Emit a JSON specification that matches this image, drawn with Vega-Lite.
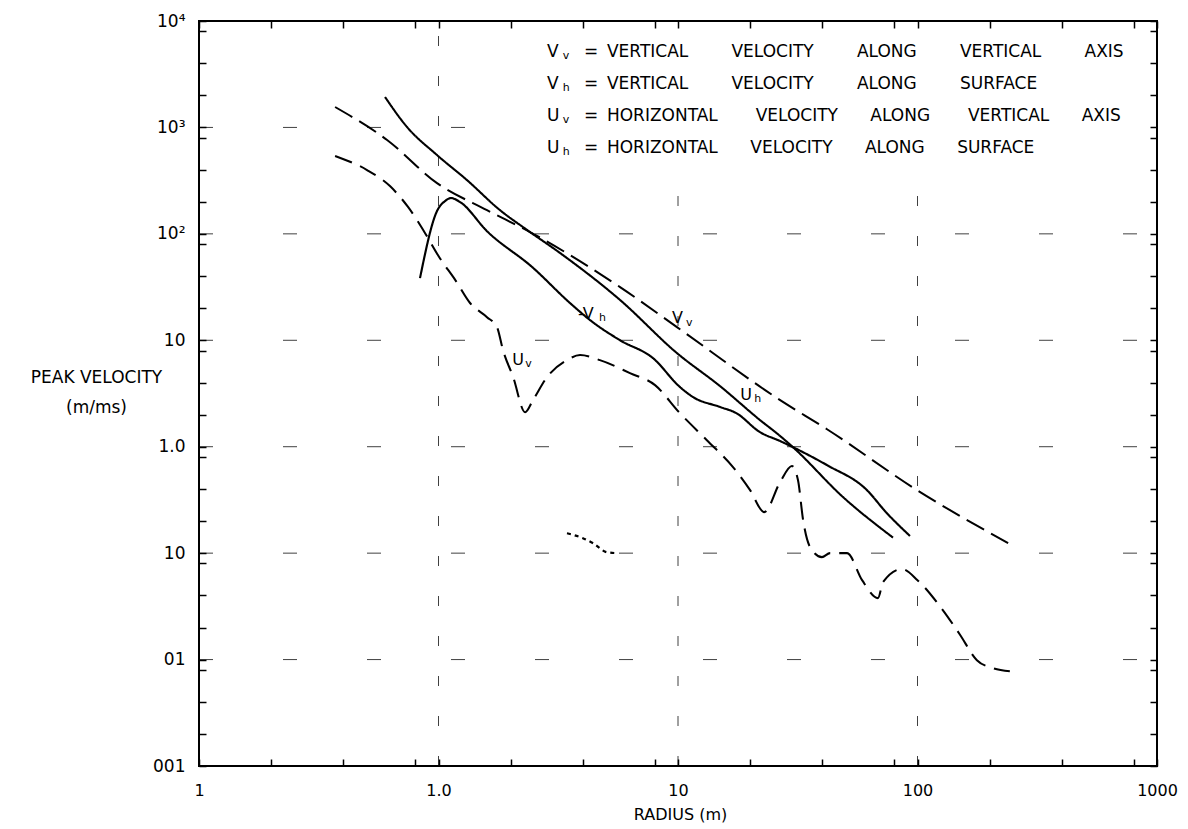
{
  "$schema": "https://vega.github.io/schema/vega-lite/v6.json",
  "width": 958,
  "height": 745,
  "autosize": {"type": "none"},
  "padding": {"left": 199, "top": 21, "right": 31, "bottom": 63},
  "background": "white",
  "config": {
    "view": {"stroke": "black", "strokeWidth": 2},
    "font": "DejaVu Sans",
    "axis": {"domain": false, "grid": false, "tickColor": "black", "tickWidth": 1.5, "tickSize": -7, "labelColor": "black", "titleColor": "black", "labelFont": "DejaVu Sans", "titleFont": "DejaVu Sans", "titleFontWeight": "normal", "labelFlush": false, "labelOverlap": false, "labelBound": false},
    "text": {"font": "DejaVu Sans", "color": "black"}
  },
  "datasets": {
    "curves": [
      {"s": "Vv", "x": 0.37, "y": 1556}, {"s": "Vv", "x": 0.61, "y": 762}, {"s": "Vv", "x": 0.986, "y": 300}, {"s": "Vv", "x": 1.594, "y": 167}, {"s": "Vv", "x": 2.41, "y": 104}, {"s": "Vv", "x": 5.73, "y": 31.6}, {"s": "Vv", "x": 9.9, "y": 13.3}, {"s": "Vv", "x": 26.7, "y": 2.74}, {"s": "Vv", "x": 41.9, "y": 1.46}, {"s": "Vv", "x": 99.5, "y": 0.391}, {"s": "Vv", "x": 239, "y": 0.124},
      {"s": "Uh", "x": 0.598, "y": 1931}, {"s": "Uh", "x": 0.739, "y": 1009}, {"s": "Uh", "x": 0.986, "y": 550}, {"s": "Uh", "x": 1.315, "y": 320}, {"s": "Uh", "x": 1.806, "y": 167}, {"s": "Uh", "x": 2.34, "y": 109}, {"s": "Uh", "x": 3.22, "y": 66}, {"s": "Uh", "x": 5.73, "y": 23.9}, {"s": "Uh", "x": 9.9, "y": 7.58}, {"s": "Uh", "x": 15.0, "y": 3.7}, {"s": "Uh", "x": 22.0, "y": 1.78}, {"s": "Uh", "x": 26.7, "y": 1.26}, {"s": "Uh", "x": 30.2, "y": 0.99}, {"s": "Uh", "x": 48.9, "y": 0.336}, {"s": "Uh", "x": 79, "y": 0.14},
      {"s": "Vh", "x": 0.837, "y": 38.4}, {"s": "Vh", "x": 0.986, "y": 164}, {"s": "Vh", "x": 1.064, "y": 203}, {"s": "Vh", "x": 1.128, "y": 217}, {"s": "Vh", "x": 1.23, "y": 199}, {"s": "Vh", "x": 1.594, "y": 106}, {"s": "Vh", "x": 2.46, "y": 48.8}, {"s": "Vh", "x": 3.54, "y": 22.4}, {"s": "Vh", "x": 4.29, "y": 15.5}, {"s": "Vh", "x": 5.73, "y": 10.0}, {"s": "Vh", "x": 7.86, "y": 6.8}, {"s": "Vh", "x": 10.2, "y": 3.63}, {"s": "Vh", "x": 11.55, "y": 2.93}, {"s": "Vh", "x": 15.0, "y": 2.36}, {"s": "Vh", "x": 17.5, "y": 2.07}, {"s": "Vh", "x": 22.0, "y": 1.37}, {"s": "Vh", "x": 26.7, "y": 1.13}, {"s": "Vh", "x": 30.2, "y": 0.99}, {"s": "Vh", "x": 41.9, "y": 0.671}, {"s": "Vh", "x": 61.5, "y": 0.391}, {"s": "Vh", "x": 73.8, "y": 0.243}, {"s": "Vh", "x": 93, "y": 0.145},
      {"s": "Uv", "x": 0.37, "y": 539}, {"s": "Uv", "x": 0.503, "y": 398}, {"s": "Uv", "x": 0.627, "y": 281}, {"s": "Uv", "x": 0.746, "y": 179}, {"s": "Uv", "x": 0.878, "y": 102}, {"s": "Uv", "x": 1.0, "y": 61.9}, {"s": "Uv", "x": 1.183, "y": 36.0}, {"s": "Uv", "x": 1.354, "y": 22.4}, {"s": "Uv", "x": 1.594, "y": 16.5}, {"s": "Uv", "x": 1.755, "y": 13.3}, {"s": "Uv", "x": 1.859, "y": 8.09}, {"s": "Uv", "x": 2.05, "y": 4.51}, {"s": "Uv", "x": 2.3, "y": 2.11}, {"s": "Uv", "x": 2.48, "y": 2.74}, {"s": "Uv", "x": 2.84, "y": 4.51}, {"s": "Uv", "x": 3.44, "y": 6.51}, {"s": "Uv", "x": 3.9, "y": 7.26}, {"s": "Uv", "x": 4.72, "y": 6.51}, {"s": "Uv", "x": 6.3, "y": 4.92}, {"s": "Uv", "x": 8.02, "y": 3.79}, {"s": "Uv", "x": 10.1, "y": 2.11}, {"s": "Uv", "x": 13.2, "y": 1.15}, {"s": "Uv", "x": 16.97, "y": 0.643}, {"s": "Uv", "x": 20.0, "y": 0.391}, {"s": "Uv", "x": 22.9, "y": 0.243}, {"s": "Uv", "x": 26.7, "y": 0.465}, {"s": "Uv", "x": 29.9, "y": 0.658}, {"s": "Uv", "x": 31.7, "y": 0.485}, {"s": "Uv", "x": 33.3, "y": 0.204}, {"s": "Uv", "x": 35.6, "y": 0.114}, {"s": "Uv", "x": 39.9, "y": 0.0917}, {"s": "Uv", "x": 43.1, "y": 0.1}, {"s": "Uv", "x": 50.8, "y": 0.1}, {"s": "Uv", "x": 58.7, "y": 0.0557}, {"s": "Uv", "x": 68.4, "y": 0.0378}, {"s": "Uv", "x": 71.8, "y": 0.0534}, {"s": "Uv", "x": 86.1, "y": 0.0708}, {"s": "Uv", "x": 100, "y": 0.0557}, {"s": "Uv", "x": 125, "y": 0.031}, {"s": "Uv", "x": 150, "y": 0.0173}, {"s": "Uv", "x": 177, "y": 0.00987}, {"s": "Uv", "x": 207, "y": 0.0083}, {"s": "Uv", "x": 243, "y": 0.00778},
      {"s": "frag", "x": 3.44, "y": 0.154}, {"s": "frag", "x": 4.01, "y": 0.138}, {"s": "frag", "x": 4.42, "y": 0.124}, {"s": "frag", "x": 5.05, "y": 0.102}, {"s": "frag", "x": 5.61, "y": 0.1}
    ],
    "vgrid": [{"gx": 1, "y0": 0.001, "y1": 10000}, {"gx": 10, "y0": 0.001, "y1": 400}, {"gx": 100, "y0": 0.001, "y1": 400}],
    "hgrid": [{"gy": 1000, "x0": 0.1, "x1": 2}, {"gy": 100, "x0": 0.1, "x1": 1000}, {"gy": 10, "x0": 0.1, "x1": 1000}, {"gy": 1, "x0": 0.1, "x1": 1000}, {"gy": 0.1, "x0": 0.1, "x1": 1000}, {"gy": 0.01, "x0": 0.1, "x1": 1000}],
    "labels": [
      {"t": "V", "x": 9.44, "y": 16.3, "k": "main"}, {"t": "v", "x": 10.8, "y": 14.5, "k": "sub"},
      {"t": "-V", "x": 3.82, "y": 17.6, "k": "main"}, {"t": "h", "x": 4.68, "y": 16.2, "k": "sub"},
      {"t": "U", "x": 18.2, "y": 3.05, "k": "main"}, {"t": "h", "x": 20.8, "y": 2.8, "k": "sub"},
      {"t": "U", "x": 2.03, "y": 6.5, "k": "main"}, {"t": "v", "x": 2.3, "y": 5.97, "k": "sub"}
    ],
    "legend": [
      {"t": "V", "x": 2.84, "y": 5119, "k": "main"}, {"t": "v", "x": 3.3, "y": 4688, "k": "sub"}, {"t": "=", "x": 4.05, "y": 5119, "k": "main"}, {"t": "VERTICAL\u00a0\u00a0\u00a0\u00a0\u00a0\u00a0\u00a0 VELOCITY\u00a0\u00a0\u00a0\u00a0\u00a0\u00a0\u00a0 ALONG\u00a0\u00a0\u00a0\u00a0\u00a0\u00a0\u00a0 VERTICAL\u00a0\u00a0\u00a0\u00a0\u00a0\u00a0\u00a0 AXIS", "x": 5.05, "y": 5119, "k": "main"},
      {"t": "V", "x": 2.84, "y": 2559, "k": "main"}, {"t": "h", "x": 3.3, "y": 2344, "k": "sub"}, {"t": "=", "x": 4.05, "y": 2559, "k": "main"}, {"t": "VERTICAL\u00a0\u00a0\u00a0\u00a0\u00a0\u00a0\u00a0 VELOCITY\u00a0\u00a0\u00a0\u00a0\u00a0\u00a0\u00a0 ALONG\u00a0\u00a0\u00a0\u00a0\u00a0\u00a0\u00a0 SURFACE", "x": 5.05, "y": 2559, "k": "main"},
      {"t": "U", "x": 2.84, "y": 1279, "k": "main"}, {"t": "v", "x": 3.3, "y": 1173, "k": "sub"}, {"t": "=", "x": 4.05, "y": 1279, "k": "main"}, {"t": "HORIZONTAL\u00a0\u00a0\u00a0\u00a0\u00a0\u00a0 VELOCITY\u00a0\u00a0\u00a0\u00a0\u00a0 ALONG\u00a0\u00a0\u00a0\u00a0\u00a0\u00a0 VERTICAL\u00a0\u00a0\u00a0\u00a0\u00a0 AXIS", "x": 5.05, "y": 1279, "k": "main"},
      {"t": "U", "x": 2.84, "y": 640, "k": "main"}, {"t": "h", "x": 3.3, "y": 587, "k": "sub"}, {"t": "=", "x": 4.05, "y": 640, "k": "main"}, {"t": "HORIZONTAL\u00a0\u00a0\u00a0\u00a0\u00a0 VELOCITY\u00a0\u00a0\u00a0\u00a0\u00a0 ALONG\u00a0\u00a0\u00a0\u00a0\u00a0 SURFACE", "x": 5.05, "y": 640, "k": "main"}
    ]
  },
  "resolve": {"axis": {"x": "independent", "y": "independent"}},
  "layer": [
    {
      "data": {"name": "vgrid"},
      "mark": {"type": "rule", "color": "black", "strokeWidth": 1, "strokeDash": [10, 30], "opacity": 0.75},
      "encoding": {
        "x": {"field": "gx", "type": "quantitative", "scale": {"type": "log", "domain": [0.1, 1000], "nice": false},
          "axis": {"orient": "top", "values": [0.1, 0.2, 0.4, 0.8, 1, 2, 4, 8, 10, 20, 40, 80, 100, 200, 400, 800, 1000], "labels": false, "title": null}},
        "y": {"field": "y0", "type": "quantitative", "scale": {"type": "log", "domain": [0.001, 10000], "nice": false}, "axis": null},
        "y2": {"field": "y1"}
      }
    },
    {
      "data": {"name": "hgrid"},
      "mark": {"type": "rule", "color": "black", "strokeWidth": 1, "strokeDash": [14, 70], "opacity": 0.75},
      "encoding": {
        "x": {"field": "x0", "type": "quantitative", "scale": {"type": "log", "domain": [0.1, 1000], "nice": false}, "axis": null},
        "x2": {"field": "x1"},
        "y": {"field": "gy", "type": "quantitative", "scale": {"type": "log", "domain": [0.001, 10000], "nice": false},
          "axis": {"orient": "right", "values": [0.001, 0.002, 0.004, 0.008, 0.01, 0.02, 0.04, 0.08, 0.1, 0.2, 0.4, 0.8, 1, 2, 4, 8, 10, 20, 40, 80, 100, 200, 400, 800, 1000, 2000, 4000, 8000, 10000], "labels": false, "title": null}}
      }
    },
    {
      "data": {"name": "curves"},
      "mark": {"type": "line", "interpolate": "monotone", "color": "black"},
      "encoding": {
        "x": {"field": "x", "type": "quantitative", "scale": {"type": "log", "domain": [0.1, 1000], "nice": false},
          "axis": {"orient": "bottom", "values": [0.1, 0.2, 0.4, 0.8, 1, 2, 4, 8, 10, 20, 40, 80, 100, 200, 400, 800, 1000],
            "labelExpr": "datum.value==0.1?'1':datum.value==1?'1.0':datum.value==10?'10':datum.value==100?'100':datum.value==1000?'1000':''",
            "labelFontSize": 16, "labelPadding": 23, "title": "RADIUS (m)", "titleFontSize": 16, "titleX": 481, "titleY": 48, "titleBaseline": "middle", "titleAlign": "center"}},
        "y": {"field": "y", "type": "quantitative", "scale": {"type": "log", "domain": [0.001, 10000], "nice": false},
          "axis": {"orient": "left", "values": [0.001, 0.002, 0.004, 0.008, 0.01, 0.02, 0.04, 0.08, 0.1, 0.2, 0.4, 0.8, 1, 2, 4, 8, 10, 20, 40, 80, 100, 200, 400, 800, 1000, 2000, 4000, 8000, 10000],
            "labelExpr": "datum.value==10000?'10⁴':datum.value==1000?'10³':datum.value==100?'10²':datum.value==10?'10':datum.value==1?'1.0':datum.value==0.1?'10':datum.value==0.01?'01':datum.value==0.001?'001':''",
            "labelFontSize": 17, "labelPadding": 21, "title": ["PEAK VELOCITY", "(m/ms)"], "titleAngle": 0, "titleAlign": "center", "titleBaseline": "middle", "titleX": -103, "titleY": 356, "titleLineHeight": 30, "titleFontSize": 17}},
        "detail": {"field": "s", "type": "nominal"},
        "strokeDash": {"field": "s", "type": "nominal", "legend": null, "scale": {"domain": ["Vv", "Uv", "Uh", "Vh", "frag"], "range": [[20, 8], [18, 9], [1, 0], [1, 0], [4, 4]]}},
        "strokeWidth": {"field": "s", "type": "nominal", "legend": null, "scale": {"domain": ["Vv", "Uv", "Uh", "Vh", "frag"], "range": [2, 2.2, 1.7, 1.7, 1.5]}}
      }
    },
    {
      "data": {"name": "labels"},
      "transform": [{"filter": "datum.k == 'main'"}],
      "mark": {"type": "text", "align": "left", "baseline": "middle", "fontSize": 16, "color": "black"},
      "encoding": {
        "x": {"field": "x", "type": "quantitative", "scale": {"type": "log", "domain": [0.1, 1000], "nice": false}, "axis": null},
        "y": {"field": "y", "type": "quantitative", "scale": {"type": "log", "domain": [0.001, 10000], "nice": false}, "axis": null},
        "text": {"field": "t"}
      }
    },
    {
      "data": {"name": "labels"},
      "transform": [{"filter": "datum.k == 'sub'"}],
      "mark": {"type": "text", "align": "left", "baseline": "middle", "fontSize": 11, "color": "black"},
      "encoding": {
        "x": {"field": "x", "type": "quantitative", "scale": {"type": "log", "domain": [0.1, 1000], "nice": false}, "axis": null},
        "y": {"field": "y", "type": "quantitative", "scale": {"type": "log", "domain": [0.001, 10000], "nice": false}, "axis": null},
        "text": {"field": "t"}
      }
    },
    {
      "data": {"name": "legend"},
      "transform": [{"filter": "datum.k == 'main'"}],
      "mark": {"type": "text", "align": "left", "baseline": "middle", "fontSize": 17, "color": "black"},
      "encoding": {
        "x": {"field": "x", "type": "quantitative", "scale": {"type": "log", "domain": [0.1, 1000], "nice": false}, "axis": null},
        "y": {"field": "y", "type": "quantitative", "scale": {"type": "log", "domain": [0.001, 10000], "nice": false}, "axis": null},
        "text": {"field": "t"}
      }
    },
    {
      "data": {"name": "legend"},
      "transform": [{"filter": "datum.k == 'sub'"}],
      "mark": {"type": "text", "align": "left", "baseline": "middle", "fontSize": 11, "color": "black"},
      "encoding": {
        "x": {"field": "x", "type": "quantitative", "scale": {"type": "log", "domain": [0.1, 1000], "nice": false}, "axis": null},
        "y": {"field": "y", "type": "quantitative", "scale": {"type": "log", "domain": [0.001, 10000], "nice": false}, "axis": null},
        "text": {"field": "t"}
      }
    }
  ]
}
